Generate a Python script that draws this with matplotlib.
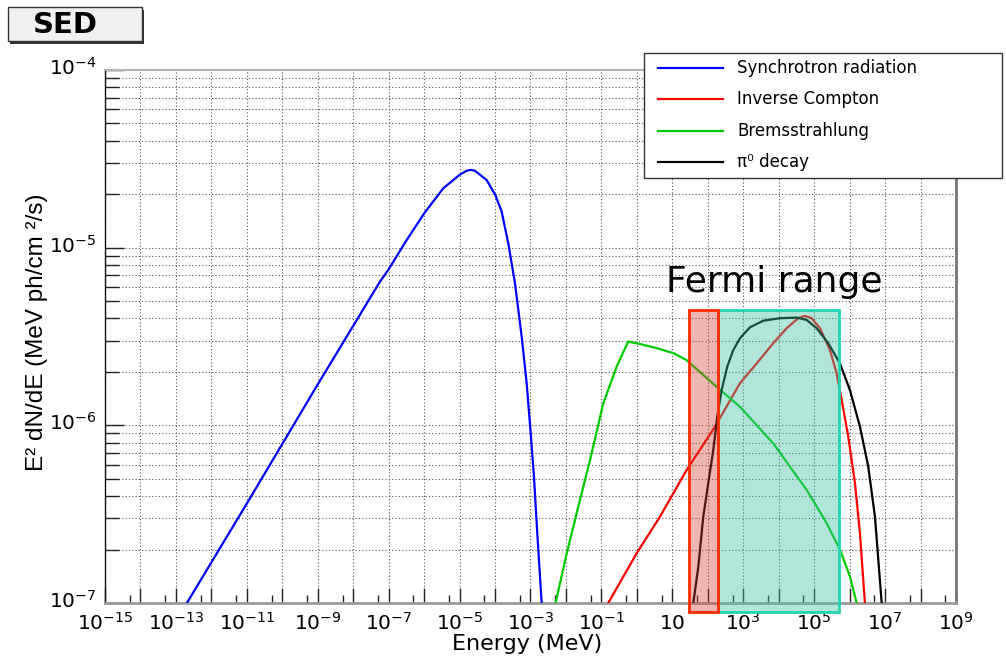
import numpy as np
import matplotlib
matplotlib.use("Agg")
import matplotlib.pyplot as plt
from matplotlib.ticker import FixedLocator, FuncFormatter, NullFormatter
from matplotlib.patches import Rectangle
from matplotlib.lines import Line2D
from matplotlib.transforms import ScaledTranslation

# ---- spectral energy distribution components (E in MeV, E^2 dN/dE) ----
sync_E = [2.04e-13, 1e-11, 1e-9, 5.69e-8, 9.75e-8, 3.22e-7, 1.01e-6, 3.47e-6, 9.82e-6,
          1.585e-5, 2.09e-5, 2.72e-5, 5.81e-5, 1.016e-4, 1.538e-4, 2.36e-4, 3.65e-4,
          5.64e-4, 7.80e-4, 1.012e-3, 1.253e-3, 1.552e-3, 2.065e-3]
sync_F = [1.0e-7, 3.63e-7, 1.70e-6, 6.44e-6, 7.50e-6, 1.104e-5, 1.563e-5, 2.158e-5, 2.564e-5,
          2.71e-5, 2.74e-5, 2.71e-5, 2.40e-5, 1.98e-5, 1.596e-5, 1.059e-5, 6.31e-6,
          3.155e-6, 1.726e-6, 9.04e-7, 5.14e-7, 2.47e-7, 1.0e-7]

ic_E = [0.156, 0.986, 4.48, 25.4, 160, 807, 2388, 7031, 1.675e4, 3.56e4, 5.50e4, 8.49e4,
        1.459e5, 2.79e5, 4.31e5, 5.97e5, 9.16e5, 1.416e6, 1.954e6, 2.70e6]
ic_F = [1.0e-7, 1.905e-7, 3.06e-7, 5.61e-7, 9.84e-7, 1.726e-6, 2.23e-6, 2.90e-6, 3.52e-6,
        4.01e-6, 4.13e-6, 4.01e-6, 3.52e-6, 2.65e-6, 1.96e-6, 1.39e-6, 8.63e-7, 4.72e-7,
        2.47e-7, 1.0e-7]

brems_E = [5.1e-3, 1.05e-2, 2.48e-2, 4.8e-2, 0.113, 0.269, 0.569, 1.22, 3.6, 10.7, 25,
           176, 813, 7.03e3, 6.1e4, 2.24e5, 5.33e5, 1.02e6, 1.58e6]
brems_F = [1.0e-7, 1.9e-7, 3.8e-7, 6.4e-7, 1.33e-6, 2.14e-6, 2.96e-6, 2.87e-6, 2.72e-6,
           2.55e-6, 2.33e-6, 1.65e-6, 1.27e-6, 7.9e-7, 4.34e-7, 2.82e-7, 2.0e-7, 1.41e-7, 1.0e-7]

pi0_E = [39.0, 54.0, 74.6, 103, 143, 185, 246, 354, 522, 807, 1545, 3664, 1.084e4, 3.21e4,
         6.14e4, 1.175e5, 2.49e5, 5.33e5, 1.02e6, 1.954e6, 3.35e6, 5.18e6, 8.02e6]
pi0_F = [1.0e-7, 1.60e-7, 3.06e-7, 4.72e-7, 7.28e-7, 1.119e-6, 1.58e-6, 2.14e-6, 2.65e-6,
         3.09e-6, 3.56e-6, 3.88e-6, 4.01e-6, 4.04e-6, 3.92e-6, 3.52e-6, 2.90e-6, 2.23e-6,
         1.58e-6, 9.84e-7, 5.86e-7, 3.06e-7, 1.0e-7]

series_labels = ["Synchrotron radiation", "Inverse Compton", "Bremsstrahlung", "π⁰ decay"]
series_colors = ["#0000ff", "#ff0000", "#00cc00", "#000000"]

# Fermi-LAT energy bands (MeV) and the flux extent of the shaded boxes
fermi_low_band = [30, 200]
fermi_high_band = [200, 5e5]
fermi_flux = [8.9e-8, 4.47e-6]

x_decades = np.arange(-15, 10)
y_decades = np.arange(-7, -3)

W, H = 1006, 656


def fx(x):
    return x / W


def fy(y):
    return 1 - y / H


plt.rcParams["font.family"] = ["DejaVu Sans"]
plt.rcParams["mathtext.fontset"] = "dejavusans"

fig = plt.figure(figsize=(W / 100, H / 100), dpi=100)
ax = fig.add_axes([fx(105), fy(603), (956 - 105) / W, (603 - 70) / H])
ax.set_xscale("log")
ax.set_yscale("log")
ax.set_xlim(10.0 ** x_decades[0], 10.0 ** x_decades[-1])
ax.set_ylim(10.0 ** y_decades[0], 10.0 ** y_decades[-1])

# curves
for E, F, c in zip([sync_E, ic_E, brems_E, pi0_E], [sync_F, ic_F, brems_F, pi0_F], series_colors):
    ax.plot(E, F, color=c, lw=1.6, zorder=3, solid_joinstyle="round")

# ticks & grid
ax.xaxis.set_major_locator(FixedLocator(10.0 ** x_decades))
ax.xaxis.set_minor_locator(FixedLocator(5 * 10.0 ** x_decades[:-1]))


def xfmt(v, pos):
    e = int(round(np.log10(v)))
    if e % 2 == 0:
        return ""
    if e == 1:
        return r"$10$"
    return r"$10^{%d}$" % e


ax.xaxis.set_major_formatter(FuncFormatter(xfmt))
ax.xaxis.set_minor_formatter(NullFormatter())

ax.yaxis.set_major_locator(FixedLocator(10.0 ** y_decades))
ymin = [m * 10.0 ** e for e in y_decades[:-1] for m in range(2, 10)]
ax.yaxis.set_minor_locator(FixedLocator(ymin))
ax.yaxis.set_major_formatter(FuncFormatter(lambda v, p: r"$10^{%d}$" % int(round(np.log10(v)))))
ax.yaxis.set_minor_formatter(NullFormatter())

ax.tick_params(axis="x", which="major", direction="in", length=11, width=1.0,
               labelsize=14.5, pad=19, color="#222222", top=False)
ax.tick_params(axis="x", which="minor", direction="in", length=5.5, width=1.0,
               color="#222222", top=False)
ax.tick_params(axis="y", which="major", direction="in", length=14, width=1.0,
               labelsize=14.5, pad=6, color="#222222", right=False)
ax.tick_params(axis="y", which="minor", direction="in", length=10, width=1.0,
               color="#222222", right=False)
# share a common baseline for the x labels (plain "10" and the powers)
for lab in ax.get_xticklabels(which="major"):
    lab.set_verticalalignment("baseline")
# lift the y labels slightly so the lowest one clears the x labels
lift = ScaledTranslation(0, 4 / 100, fig.dpi_scale_trans)
for lab in ax.get_yticklabels(which="major"):
    lab.set_transform(lab.get_transform() + lift)

grid_style = dict(ls=(0, (1, 2)), color="#555555", lw=0.8)
ax.grid(which="major", axis="x", **grid_style)
ax.grid(which="both", axis="y", **grid_style)
ax.set_axisbelow(True)

ax.spines["left"].set_color("#111111")
ax.spines["left"].set_linewidth(1.0)
ax.spines["bottom"].set_color("#9a9a9a")
ax.spines["bottom"].set_linewidth(2.0)
ax.spines["top"].set_color("#b5b5b5")
ax.spines["top"].set_linewidth(1.5)
ax.spines["right"].set_color("#777777")
ax.spines["right"].set_linewidth(2.0)

# Fermi range shaded boxes
ax.add_patch(Rectangle((fermi_high_band[0], fermi_flux[0]),
                       fermi_high_band[1] - fermi_high_band[0], fermi_flux[1] - fermi_flux[0],
                       facecolor=(60 / 255, 192 / 255, 160 / 255, 0.40), edgecolor="#22d4b0",
                       lw=2.0, clip_on=False, zorder=4))
ax.add_patch(Rectangle((fermi_low_band[0], fermi_flux[0]),
                       fermi_low_band[1] - fermi_low_band[0], fermi_flux[1] - fermi_flux[0],
                       facecolor=(208 / 255, 64 / 255, 48 / 255, 0.38), edgecolor="#ff2a00",
                       lw=2.0, clip_on=False, zorder=5))

fig.text(fx(774), fy(292), "Fermi range", ha="center", va="baseline",
         fontsize=26, color="black")

# axis titles
fig.text(fx(37), fy(332), "E² dN/dE (MeV ph/cm ²/s)", rotation=90, ha="center", va="center",
         family=["Liberation Sans", "DejaVu Sans"], fontsize=17.5)
fig.text(fx(527), fy(650), "Energy (MeV)", ha="center", va="baseline", fontsize=16)

# title box
fig.patches.append(Rectangle((fx(10), fy(44)), (142 - 8) / W, (41 - 7) / H,
                             transform=fig.transFigure, facecolor="#333333", edgecolor="none"))
fig.patches.append(Rectangle((fx(8), fy(41)), (142 - 8) / W, (41 - 7) / H,
                             transform=fig.transFigure, facecolor="#f0f0f0",
                             edgecolor="#333333", lw=1.0))
fig.text(fx(65), fy(25), "SED", ha="center", va="center", fontsize=21, fontweight="bold")

# legend
fig.patches.append(Rectangle((fx(644), fy(178)), (1002 - 644) / W, (178 - 53) / H,
                             transform=fig.transFigure, facecolor="white",
                             edgecolor="#333333", lw=1.0, zorder=6))
rows = [68, 99, 131, 162]
for yy, lab, c in zip(rows, series_labels, series_colors):
    fig.lines.append(Line2D([fx(658), fx(723)], [fy(yy), fy(yy)], transform=fig.transFigure,
                            color=c, lw=1.6, zorder=7))
    fig.text(fx(737), fy(yy), lab, ha="left", va="center", fontsize=12, zorder=7)

fig.savefig("out.png", dpi=100)
